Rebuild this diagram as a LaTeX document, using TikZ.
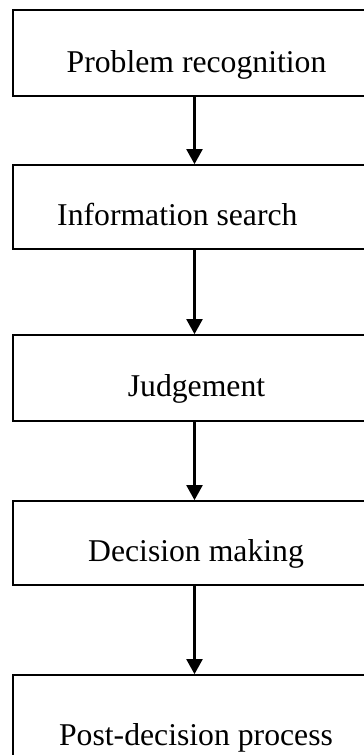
\documentclass[tikz,border=0pt]{standalone}
\usepackage{fontspec}
\setmainfont{Liberation Serif}
\usetikzlibrary{arrows.meta}
\begin{document}
\begin{tikzpicture}[x=1pt,y=-1pt,
  box/.style={draw=black,line width=1.7pt,minimum width=363pt,inner sep=0pt,fill=white},
  lbl/.style={font=\fontsize{31.7}{38}\selectfont,inner sep=0pt,anchor=base},
  flow/.style={line width=2.1pt,-{Triangle[width=16pt,length=15pt]}}]
\useasboundingbox (0,0) rectangle (364,755);
\clip (0,0) rectangle (364,755);
\node[box,minimum height=86pt] (b1) at (194.5,53) {};
\node[box,minimum height=84pt] (b2) at (194.5,207) {};
\node[box,minimum height=86pt] (b3) at (194.5,378) {};
\node[box,minimum height=84pt] (b4) at (194.5,543) {};
\node[box,minimum height=104pt] (b5) at (194.5,727) {};
\node[lbl] (t1) at (196.5,72.7) {Problem recognition};
\node[lbl,anchor=base west] (t2) at (57,225) {Information search};
\node[lbl] (t3) at (196.5,396.7) {Judgement};
\node[lbl] (t4) at (196,561.7) {Decision making};
\node[lbl] (t5) at (196,745.7) {Post-decision process};
\draw[flow] (b1.south) -- (b2.north);
\draw[flow] (b2.south) -- (b3.north);
\draw[flow] (b3.south) -- (b4.north);
\draw[flow] (b4.south) -- (b5.north);
\end{tikzpicture}
\end{document}
